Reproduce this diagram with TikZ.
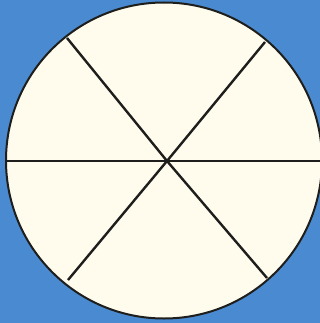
\documentclass[tikz,border=0pt]{standalone}
\definecolor{bgblue}{RGB}{74,138,208}
\definecolor{cream}{RGB}{255,252,238}
\definecolor{ink}{RGB}{30,30,28}
\begin{document}
\begin{tikzpicture}[x=1pt,y=-1pt,
  rim/.style={draw=ink,line width=2pt,fill=cream},
  spoke/.style={draw=ink,line width=2.4pt}]
\fill[bgblue] (0,0) rectangle (320,323);
\useasboundingbox (0,0) rectangle (320,323);
\draw[rim] (164,160.5) circle (158);
\coordinate (c) at (167,161);
\coordinate (ul) at (67,38);
\coordinate (ur) at (265,42);
\coordinate (ll) at (68,280);
\coordinate (lr) at (267,278);
\coordinate (l) at (6,161);
\coordinate (r) at (322,161);
\draw[spoke] (ul) -- (c) -- (lr);
\draw[spoke] (ur) -- (c) -- (ll);
\draw[spoke] (l) -- (r);
\end{tikzpicture}
\end{document}
